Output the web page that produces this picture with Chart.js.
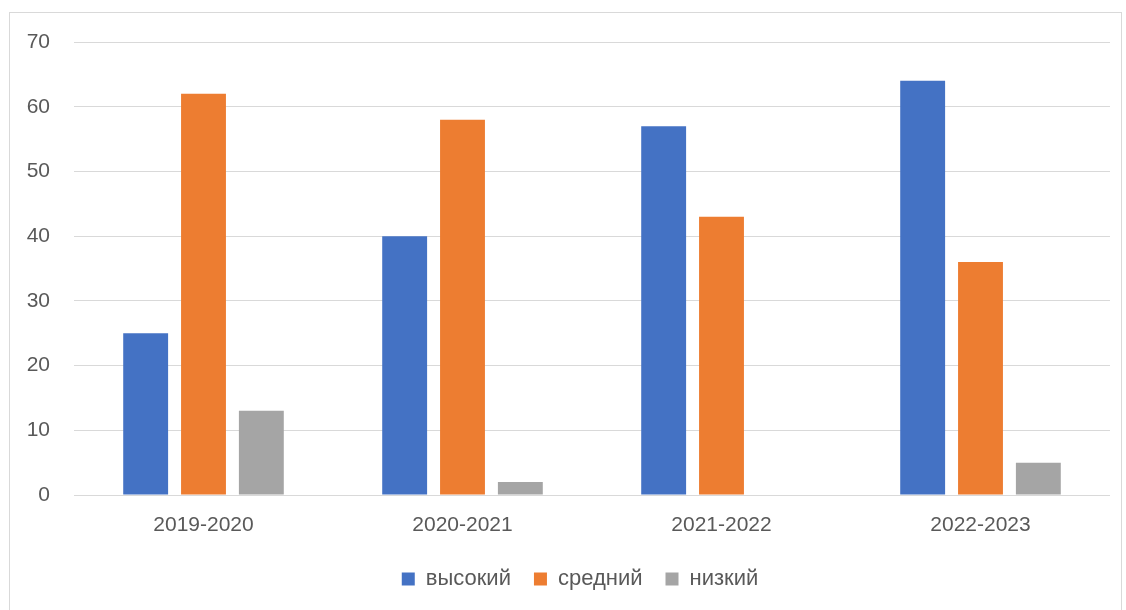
<!DOCTYPE html>
<html>
<head>
<meta charset="utf-8">
<script src="https://cdn.jsdelivr.net/npm/chart.js@4"></script>
<style>
  body { margin: 0; background: #fff; }
  #frame { position: absolute; left: 9px; top: 12px; width: 1111px; height: 610px; border: 1px solid #d9d9d9; }
  #wrap { position: absolute; left: 0; top: 0; width: 1126px; height: 610px; }
</style>
</head>
<body>
<div id="frame"></div>
<div id="wrap"><canvas id="chart"></canvas></div>
<script>
const years = ['2019-2020', '2020-2021', '2021-2022', '2022-2023'];
const high = [25, 40, 57, 64];
const medium = [62, 58, 43, 36];
const low = [13, 2, 0, 5];
const yTicks = [0, 10, 20, 30, 40, 50, 60, 70];

const textColor = '#595959';
const gridColor = '#d9d9d9';
Chart.defaults.font.family = "'Liberation Sans', sans-serif";
Chart.defaults.font.size = 21;
Chart.defaults.color = textColor;

// the reference legend sits a bit right of the canvas centre
const legendShift = {
    id: 'legendShift',
    afterLayout(chart) {
        if (chart.legend) {
            chart.legend.left += 13;
            chart.legend.right += 13;
        }
    }
};

const ctx = document.getElementById('chart').getContext('2d');
new Chart(ctx, {
    type: 'bar',
    data: {
        labels: years,
        datasets: [
            { label: 'высокий', data: high, backgroundColor: '#4472C4' },
            { label: 'средний', data: medium, backgroundColor: '#ED7D31' },
            { label: 'низкий', data: low, backgroundColor: '#A5A5A5' }
        ]
    },
    options: {
        responsive: true,
        maintainAspectRatio: false,
        animation: false,
        categoryPercentage: 0.67,
        barPercentage: 0.776,
        layout: { padding: { left: 24, right: 16, top: 42, bottom: 10 } },
        plugins: {
            tooltip: { enabled: false },
            legend: {
                position: 'bottom',
                labels: { boxWidth: 13, boxHeight: 13, padding: 23, font: { size: 22 } }
            }
        },
        scales: {
            x: {
                grid: { display: false, drawTicks: false },
                border: { display: false },
                ticks: { padding: 18 },
                afterFit: scale => { scale.height = 50; }
            },
            y: {
                min: 0,
                max: 70,
                afterBuildTicks: scale => { scale.ticks = yTicks.map(v => ({ value: v })); },
                grid: { color: gridColor, lineWidth: 1, drawTicks: false },
                border: { display: false },
                ticks: { padding: 24 },
                afterFit: scale => { scale.width = 50; }
            }
        }
    },
    plugins: [legendShift]
});
</script>
</body>
</html>
